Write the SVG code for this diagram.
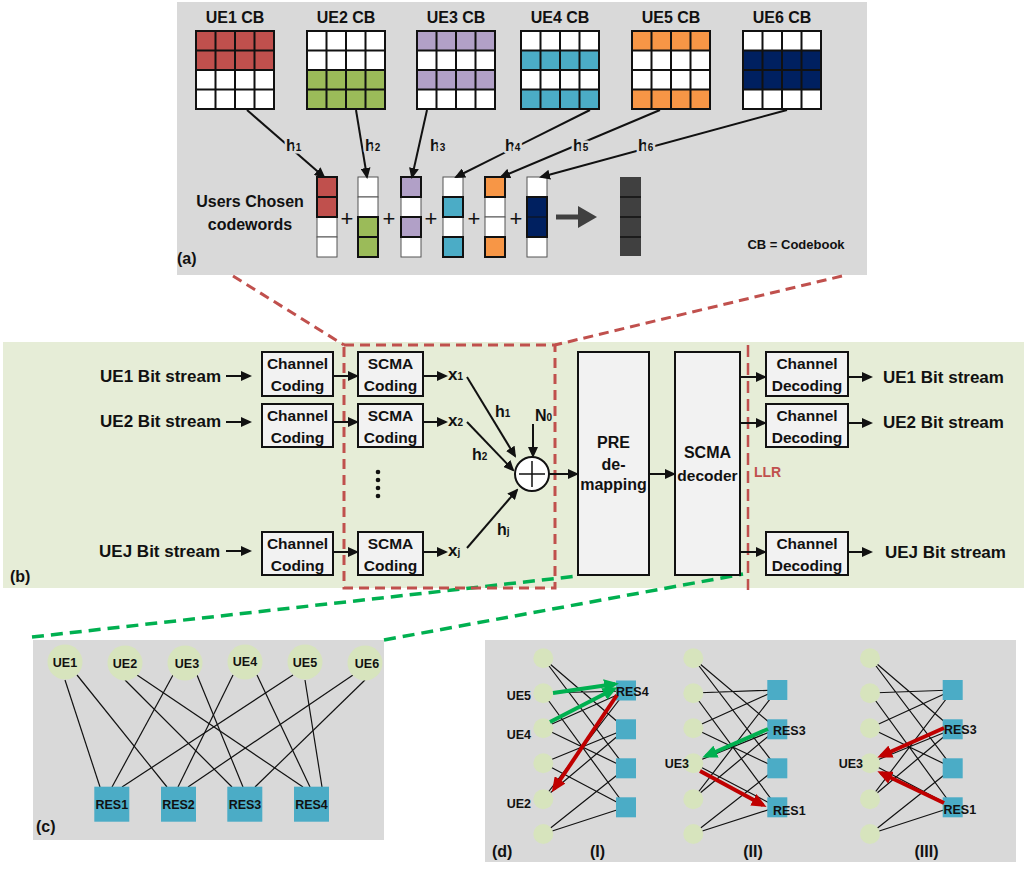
<svg xmlns="http://www.w3.org/2000/svg" width="1024" height="872" viewBox="0 0 1024 872">
<style>
text{font-family:"Liberation Sans",Arial,sans-serif;font-weight:bold;fill:#111}
.lab{font-size:16px}
.box{fill:#F2F2F2;stroke:#111;stroke-width:2}
.bt{font-size:15.5px;text-anchor:middle}
.ln{stroke:#111;stroke-width:2;fill:none}
.thin{stroke:#111;stroke-width:1.2;fill:none}
.halo{paint-order:stroke;stroke:#D9D9D9;stroke-width:5px;stroke-linejoin:round}
.cb{font-size:16px;text-anchor:middle}
.g{fill:none;stroke:#111;stroke-width:2}
.cw{stroke:#555;stroke-width:1}
.cwc{stroke:#111;stroke-width:2}
.ue{fill:#D7E4BD}
.res{fill:#4BACC6}
.nt{font-size:12.5px;text-anchor:middle}
.st{font-size:12.5px}
</style>
<defs>
<marker id="a" markerUnits="userSpaceOnUse" markerWidth="11" markerHeight="10" refX="9" refY="5" orient="auto"><path d="M0,0 L11,5 L0,10 z" fill="#111"/></marker>
<marker id="mg" markerUnits="userSpaceOnUse" markerWidth="15" markerHeight="13" refX="11" refY="6.5" orient="auto"><path d="M0,0 L15,6.5 L0,13 z" fill="#00B050"/></marker>
<marker id="mr" markerUnits="userSpaceOnUse" markerWidth="15" markerHeight="13" refX="11" refY="6.5" orient="auto"><path d="M0,0 L15,6.5 L0,13 z" fill="#C00000"/></marker>
<path id="grid" d="M0 0h78v78h-78z M19.5 0v78 M39 0v78 M58.5 0v78 M0 19.5h78 M0 39h78 M0 58.5h78"/>
</defs>

<!-- Panel backgrounds -->
<rect x="177" y="2" width="690" height="273" fill="#D9D9D9"/>
<rect x="3" y="342" width="1021" height="246" fill="#E6EDD7"/>
<rect x="33" y="640" width="351" height="200" fill="#D9D9D9"/>
<rect x="485" y="640" width="531" height="222" fill="#D9D9D9"/>

<!-- Panel (a) codebooks -->
<g id="ue1-cb" transform="translate(196,31)">
<text class="cb" x="39" y="-8">UE1 CB</text>
<rect x="0" y="0" width="78" height="39" fill="#C0504D"/><rect x="0" y="39" width="78" height="39" fill="#fff"/>
<use href="#grid" class="g"/>
</g>
<g id="ue2-cb" transform="translate(307,31)">
<text class="cb" x="39" y="-8">UE2 CB</text>
<rect x="0" y="0" width="78" height="39" fill="#fff"/><rect x="0" y="39" width="78" height="39" fill="#9BBB59"/>
<use href="#grid" class="g"/>
</g>
<g id="ue3-cb" transform="translate(417,31)">
<text class="cb" x="39" y="-8">UE3 CB</text>
<rect x="0" y="0" width="78" height="78" fill="#fff"/>
<rect x="0" y="0" width="78" height="19.5" fill="#B1A0C7"/><rect x="0" y="39" width="78" height="19.5" fill="#B1A0C7"/>
<use href="#grid" class="g"/>
</g>
<g id="ue4-cb" transform="translate(521,31)">
<text class="cb" x="39" y="-8">UE4 CB</text>
<rect x="0" y="0" width="78" height="78" fill="#fff"/>
<rect x="0" y="19.5" width="78" height="19.5" fill="#4BACC6"/><rect x="0" y="58.5" width="78" height="19.5" fill="#4BACC6"/>
<use href="#grid" class="g"/>
</g>
<g id="ue5-cb" transform="translate(632,31)">
<text class="cb" x="39" y="-8">UE5 CB</text>
<rect x="0" y="0" width="78" height="78" fill="#fff"/>
<rect x="0" y="0" width="78" height="19.5" fill="#F79646"/><rect x="0" y="58.5" width="78" height="19.5" fill="#F79646"/>
<use href="#grid" class="g"/>
</g>
<g id="ue6-cb" transform="translate(743,31)">
<text class="cb" x="39" y="-8">UE6 CB</text>
<rect x="0" y="0" width="78" height="78" fill="#fff"/>
<rect x="0" y="19.5" width="78" height="39" fill="#002060"/>
<use href="#grid" class="g"/>
</g>

<!-- chosen codewords -->
<g id="cw1" transform="translate(317,177)">
<rect class="cw" x="0" y="40" width="20" height="20" fill="#fff"/><rect class="cw" x="0" y="60" width="20" height="20" fill="#fff"/>
<rect class="cwc" x="0" y="0" width="20" height="20" fill="#C0504D"/><rect class="cwc" x="0" y="20" width="20" height="20" fill="#C0504D"/>
</g>
<g id="cw2" transform="translate(358,177)">
<rect class="cw" x="0" y="0" width="20" height="20" fill="#fff"/><rect class="cw" x="0" y="20" width="20" height="20" fill="#fff"/>
<rect class="cwc" x="0" y="40" width="20" height="20" fill="#9BBB59"/><rect class="cwc" x="0" y="60" width="20" height="20" fill="#9BBB59"/>
</g>
<g id="cw3" transform="translate(401,177)">
<rect class="cw" x="0" y="20" width="20" height="20" fill="#fff"/><rect class="cw" x="0" y="60" width="20" height="20" fill="#fff"/>
<rect class="cwc" x="0" y="0" width="20" height="20" fill="#B1A0C7"/><rect class="cwc" x="0" y="40" width="20" height="20" fill="#B1A0C7"/>
</g>
<g id="cw4" transform="translate(443,177)">
<rect class="cw" x="0" y="0" width="20" height="20" fill="#fff"/><rect class="cw" x="0" y="40" width="20" height="20" fill="#fff"/>
<rect class="cwc" x="0" y="20" width="20" height="20" fill="#4BACC6"/><rect class="cwc" x="0" y="60" width="20" height="20" fill="#4BACC6"/>
</g>
<g id="cw5" transform="translate(485,177)">
<rect class="cw" x="0" y="20" width="20" height="20" fill="#fff"/><rect class="cw" x="0" y="40" width="20" height="20" fill="#fff"/>
<rect class="cwc" x="0" y="0" width="20" height="20" fill="#F79646"/><rect class="cwc" x="0" y="60" width="20" height="20" fill="#F79646"/>
</g>
<g id="cw6" transform="translate(527,177)">
<rect class="cw" x="0" y="0" width="20" height="20" fill="#fff"/><rect class="cw" x="0" y="60" width="20" height="20" fill="#fff"/>
<rect class="cwc" x="0" y="20" width="20" height="40" fill="#002060"/><line x1="0" y1="40" x2="20" y2="40" stroke="#111" stroke-width="1"/>
</g>
<g id="sum" transform="translate(620,177)">
<rect x="0" y="0" width="21" height="79" fill="#404040"/>
<path d="M0 20h21 M0 40h21 M0 60h21" stroke="#111" stroke-width="1.5"/>
</g>
<g id="plus-signs" fill="#222">
<text x="347" y="226" style="font-size:22px;font-weight:normal;text-anchor:middle">+</text>
<text x="389" y="226" style="font-size:22px;font-weight:normal;text-anchor:middle">+</text>
<text x="431" y="226" style="font-size:22px;font-weight:normal;text-anchor:middle">+</text>
<text x="474" y="226" style="font-size:22px;font-weight:normal;text-anchor:middle">+</text>
<text x="516" y="226" style="font-size:22px;font-weight:normal;text-anchor:middle">+</text>
</g>
<g id="sum-arrow">
<line x1="556" y1="217" x2="580" y2="217" stroke="#404040" stroke-width="5"/>
<path d="M578,206 L597,217 L578,228 z" fill="#404040"/>
</g>
<text class="lab" x="250" y="207" text-anchor="middle">Users Chosen</text>
<text class="lab" x="250" y="230" text-anchor="middle">codewords</text>
<text x="796" y="249" style="font-size:13px;text-anchor:middle">CB = Codebook</text>
<text class="lab" x="177" y="264">(a)</text>

<!-- connectors panel (a) -->
<g id="conn-a">
<line class="ln" x1="247" y1="110" x2="324" y2="177" marker-end="url(#a)"/>
<line class="ln" x1="356" y1="110" x2="367" y2="177" marker-end="url(#a)"/>
<line class="ln" x1="427" y1="110" x2="412" y2="177" marker-end="url(#a)"/>
<line class="ln" x1="590" y1="110" x2="456" y2="177" marker-end="url(#a)"/>
<line class="ln" x1="660" y1="110" x2="501" y2="177" marker-end="url(#a)"/>
<line class="ln" x1="787" y1="110" x2="541" y2="177" marker-end="url(#a)"/>
</g>
<g id="h-labels" style="font-size:16px">
<text class="halo" x="286" y="151">h<tspan style="font-size:10px">1</tspan></text>
<text class="halo" x="365" y="151">h<tspan style="font-size:10px">2</tspan></text>
<text class="halo" x="430" y="151">h<tspan style="font-size:10px">3</tspan></text>
<text class="halo" x="505" y="151">h<tspan style="font-size:10px">4</tspan></text>
<text class="halo" x="573" y="151">h<tspan style="font-size:10px">5</tspan></text>
<text class="halo" x="638" y="151">h<tspan style="font-size:10px">6</tspan></text>
</g>

<!-- zoom lines -->
<g id="zoom-lines" fill="none">
<path d="M233,276 L344,345" stroke="#C0504D" stroke-width="3" stroke-dasharray="10 6"/>
<path d="M842,276 L555,345" stroke="#C0504D" stroke-width="3" stroke-dasharray="10 6"/>
<path d="M32,637 L578,576" stroke="#00B050" stroke-width="3.5" stroke-dasharray="12 7"/>
<path d="M384,640 L743,574" stroke="#00B050" stroke-width="3.5" stroke-dasharray="12 7"/>
</g>

<!-- Panel (b) -->
<rect x="344" y="345" width="211" height="243" fill="none" stroke="#C0504D" stroke-width="3" stroke-dasharray="10 6"/>
<line x1="748" y1="345" x2="748" y2="590" stroke="#C0504D" stroke-width="2.5" stroke-dasharray="12 6"/>
<text x="754" y="477" style="font-size:14px;fill:#C0504D">LLR</text>

<g id="in-labels" style="font-size:17px;text-anchor:end">
<text x="221" y="382">UE1 Bit stream</text>
<text x="221" y="427">UE2 Bit stream</text>
<text x="220" y="557">UEJ Bit stream</text>
</g>
<g id="cc1"><rect class="box" x="262" y="352" width="71" height="44"/><text class="bt" x="297.5" y="369">Channel</text><text class="bt" x="297.5" y="391">Coding</text></g>
<g id="cc2"><rect class="box" x="262" y="404" width="71" height="43"/><text class="bt" x="297.5" y="421">Channel</text><text class="bt" x="297.5" y="443">Coding</text></g>
<g id="cc3"><rect class="box" x="262" y="532" width="71" height="43"/><text class="bt" x="297.5" y="549">Channel</text><text class="bt" x="297.5" y="571">Coding</text></g>
<g id="sc1"><rect class="box" x="358" y="352" width="65" height="44"/><text class="bt" x="390.5" y="369">SCMA</text><text class="bt" x="390.5" y="391">Coding</text></g>
<g id="sc2"><rect class="box" x="358" y="404" width="65" height="43"/><text class="bt" x="390.5" y="421">SCMA</text><text class="bt" x="390.5" y="443">Coding</text></g>
<g id="sc3"><rect class="box" x="358" y="532" width="65" height="43"/><text class="bt" x="390.5" y="549">SCMA</text><text class="bt" x="390.5" y="571">Coding</text></g>
<g id="dots" fill="#111"><circle cx="378" cy="472" r="2.3"/><circle cx="378" cy="480" r="2.3"/><circle cx="378" cy="488" r="2.3"/><circle cx="378" cy="496" r="2.3"/></g>
<g id="x-labels" style="font-size:17px">
<text x="448" y="380">x<tspan style="font-size:10px">1</tspan></text>
<text x="448" y="426">x<tspan style="font-size:10px">2</tspan></text>
<text x="448" y="556">x<tspan style="font-size:10px">j</tspan></text>
</g>
<g id="adder"><circle cx="532" cy="474" r="17" fill="#fff" stroke="#111" stroke-width="2"/><path d="M519,474 h26 M532,461 v26" stroke="#111" stroke-width="1.5"/></g>
<g id="pre"><rect class="box" x="578" y="352" width="71" height="223"/><text class="bt" x="613.5" y="448" style="font-size:16px">PRE</text><text class="bt" x="613.5" y="470" style="font-size:16px">de-</text><text class="bt" x="613.5" y="490" style="font-size:16px">mapping</text></g>
<g id="dec"><rect class="box" x="675" y="352" width="65" height="223"/><text class="bt" x="707.5" y="458" style="font-size:16px">SCMA</text><text class="bt" x="707.5" y="481">decoder</text></g>
<g id="cd1"><rect class="box" x="766" y="352" width="82" height="44"/><text class="bt" x="807" y="369">Channel</text><text class="bt" x="807" y="391">Decoding</text></g>
<g id="cd2"><rect class="box" x="766" y="404" width="82" height="43"/><text class="bt" x="807" y="421">Channel</text><text class="bt" x="807" y="443">Decoding</text></g>
<g id="cd3"><rect class="box" x="766" y="532" width="82" height="43"/><text class="bt" x="807" y="549">Channel</text><text class="bt" x="807" y="571">Decoding</text></g>
<g id="out-labels" style="font-size:17px">
<text x="883" y="383">UE1 Bit stream</text>
<text x="883" y="428">UE2 Bit stream</text>
<text x="885" y="558">UEJ Bit stream</text>
</g>
<text class="lab" x="10" y="582">(b)</text>

<g id="conn-b">
<line class="ln" x1="226" y1="376" x2="250" y2="376" marker-end="url(#a)"/>
<line class="ln" x1="226" y1="422" x2="250" y2="422" marker-end="url(#a)"/>
<line class="ln" x1="226" y1="551" x2="250" y2="551" marker-end="url(#a)"/>
<line class="ln" x1="333" y1="376" x2="357" y2="376" marker-end="url(#a)"/>
<line class="ln" x1="333" y1="422" x2="357" y2="422" marker-end="url(#a)"/>
<line class="ln" x1="333" y1="552" x2="357" y2="552" marker-end="url(#a)"/>
<line class="ln" x1="423" y1="376" x2="446" y2="376" marker-end="url(#a)"/>
<line class="ln" x1="423" y1="422" x2="446" y2="422" marker-end="url(#a)"/>
<line class="ln" x1="423" y1="552" x2="446" y2="552" marker-end="url(#a)"/>
<line class="ln" x1="467" y1="377" x2="515" y2="456" marker-end="url(#a)"/>
<line class="ln" x1="467" y1="422" x2="513" y2="470" marker-end="url(#a)"/>
<line class="ln" x1="467" y1="548" x2="517" y2="490" marker-end="url(#a)"/>
<line class="ln" x1="533" y1="424" x2="533" y2="456" marker-end="url(#a)"/>
<line class="ln" x1="549" y1="474" x2="577" y2="474" marker-end="url(#a)"/>
<line class="ln" x1="649" y1="474" x2="674" y2="474" marker-end="url(#a)"/>
<line class="ln" x1="740" y1="377" x2="765" y2="377" marker-end="url(#a)"/>
<line class="ln" x1="740" y1="423" x2="765" y2="423" marker-end="url(#a)"/>
<line class="ln" x1="740" y1="552" x2="765" y2="552" marker-end="url(#a)"/>
<line class="ln" x1="848" y1="377" x2="871" y2="377" marker-end="url(#a)"/>
<line class="ln" x1="848" y1="423" x2="871" y2="423" marker-end="url(#a)"/>
<line class="ln" x1="848" y1="552" x2="871" y2="552" marker-end="url(#a)"/>
</g>
<g id="b-labels" style="font-size:16px">
<text x="495" y="417">h<tspan style="font-size:10px">1</tspan></text>
<text x="472" y="460">h<tspan style="font-size:10px">2</tspan></text>
<text x="497" y="535">h<tspan style="font-size:10px">j</tspan></text>
<text x="535" y="421">N<tspan style="font-size:10px">0</tspan></text>
</g>

<!-- Panel (c) -->
<g id="conn-c" class="thin">
<line x1="65" y1="680" x2="100" y2="787"/>
<line x1="77" y1="675" x2="167" y2="787"/>
<line x1="125" y1="680" x2="232" y2="787"/>
<line x1="137" y1="675" x2="303" y2="787"/>
<line x1="173" y1="675" x2="112" y2="787"/>
<line x1="197" y1="675" x2="243" y2="787"/>
<line x1="233" y1="675" x2="178" y2="787"/>
<line x1="257" y1="675" x2="310" y2="787"/>
<line x1="293" y1="675" x2="122" y2="787"/>
<line x1="305" y1="680" x2="322" y2="787"/>
<line x1="353" y1="675" x2="188" y2="787"/>
<line x1="365" y1="680" x2="255" y2="787"/>
</g>
<g id="c-ue1"><circle class="ue" cx="65" cy="662" r="17.5"/><text class="nt" x="65" y="667">UE1</text></g>
<g id="c-ue2"><circle class="ue" cx="125" cy="663" r="17.5"/><text class="nt" x="125" y="668">UE2</text></g>
<g id="c-ue3"><circle class="ue" cx="185" cy="663" r="17.5"/><text class="nt" x="187" y="668">UE3</text></g>
<g id="c-ue4"><circle class="ue" cx="245" cy="662" r="17.5"/><text class="nt" x="245" y="666">UE4</text></g>
<g id="c-ue5"><circle class="ue" cx="305" cy="662" r="17.5"/><text class="nt" x="305" y="667">UE5</text></g>
<g id="c-ue6"><circle class="ue" cx="365" cy="663" r="17.5"/><text class="nt" x="367" y="668">UE6</text></g>
<g id="c-res1"><rect class="res" x="94.3" y="786.7" width="35" height="35"/><text class="nt" x="111.8" y="808.5">RES1</text></g>
<g id="c-res2"><rect class="res" x="161" y="786.7" width="35" height="35"/><text class="nt" x="178.5" y="808.5">RES2</text></g>
<g id="c-res3"><rect class="res" x="227.3" y="786.7" width="35" height="35"/><text class="nt" x="245" y="808.5">RES3</text></g>
<g id="c-res4"><rect class="res" x="294" y="786.7" width="35" height="35"/><text class="nt" x="311.5" y="808.5">RES4</text></g>
<text class="lab" x="36" y="832">(c)</text>

<!-- Panel (d) -->
<g id="conn-d" class="thin">
<!-- (I) -->
<path d="M543,834 L626,807 M543,834 L626,768 M543,799 L626,729 M543,799 L626,691 M543,763 L626,807 M543,763 L626,729 M543,728 L626,768 M543,728 L626,691 M543,693 L626,807 M543,693 L626,691 M543,658 L626,768 M543,658 L626,729"/>
<!-- (II) -->
<path d="M693,834 L777,807 M693,834 L777,768 M693,799 L777,729 M693,799 L777,690 M693,763 L777,807 M693,763 L777,729 M693,728 L777,768 M693,728 L777,690 M693,693 L777,807 M693,693 L777,690 M693,658 L777,768 M693,658 L777,729"/>
<!-- (III) -->
<path d="M870,834 L953,807 M870,834 L953,768 M870,799 L953,729 M870,799 L953,690 M870,763 L953,807 M870,763 L953,729 M870,728 L953,768 M870,728 L953,690 M870,693 L953,807 M870,693 L953,690 M870,658 L953,768 M870,658 L953,729"/>
</g>
<g id="d1-nodes">
<circle class="ue" cx="543.3" cy="658.3" r="10"/><circle class="ue" cx="543.3" cy="693.3" r="10"/><circle class="ue" cx="543.3" cy="728.3" r="10"/><circle class="ue" cx="543.3" cy="763.3" r="10"/><circle class="ue" cx="543.3" cy="799.3" r="10"/><circle class="ue" cx="543.3" cy="834" r="10"/>
<rect class="res" x="616" y="680.5" width="20" height="20"/><rect class="res" x="616" y="719.3" width="20" height="20"/><rect class="res" x="616" y="758.3" width="20" height="20"/><rect class="res" x="616" y="797.3" width="20" height="20"/>
</g>
<g id="d2-nodes">
<circle class="ue" cx="693.3" cy="658.3" r="10"/><circle class="ue" cx="693.3" cy="693.3" r="10"/><circle class="ue" cx="693.3" cy="728.3" r="10"/><circle class="ue" cx="693.3" cy="763.3" r="10"/><circle class="ue" cx="693.3" cy="799.3" r="10"/><circle class="ue" cx="693.3" cy="834" r="10"/>
<rect class="res" x="767.3" y="680" width="20" height="20"/><rect class="res" x="767.3" y="719.3" width="20" height="20"/><rect class="res" x="767.3" y="758.3" width="20" height="20"/><rect class="res" x="767.3" y="797.3" width="20" height="20"/>
</g>
<g id="d3-nodes">
<circle class="ue" cx="870" cy="658.3" r="10"/><circle class="ue" cx="870" cy="693.3" r="10"/><circle class="ue" cx="870" cy="728.3" r="10"/><circle class="ue" cx="870" cy="763.3" r="10"/><circle class="ue" cx="870" cy="799.3" r="10"/><circle class="ue" cx="870" cy="834" r="10"/>
<rect class="res" x="942.7" y="680" width="20" height="20"/><rect class="res" x="942.7" y="719.3" width="20" height="20"/><rect class="res" x="942.7" y="758.3" width="20" height="20"/><rect class="res" x="942.7" y="797.3" width="20" height="20"/>
</g>
<g id="d-arrows" fill="none" stroke-width="4">
<line x1="553" y1="693" x2="615" y2="684" stroke="#00B050" marker-end="url(#mg)"/>
<line x1="550" y1="722" x2="614" y2="689" stroke="#00B050" marker-end="url(#mg)"/>
<line x1="617" y1="695" x2="554" y2="789" stroke="#C00000" marker-end="url(#mr)"/>
<line x1="768" y1="729" x2="706" y2="756" stroke="#00B050" marker-end="url(#mg)"/>
<line x1="700" y1="771" x2="763" y2="805" stroke="#C00000" marker-end="url(#mr)"/>
<line x1="944" y1="728" x2="881" y2="756" stroke="#C00000" marker-end="url(#mr)"/>
<line x1="944" y1="803" x2="881" y2="773" stroke="#C00000" marker-end="url(#mr)"/>
</g>
<g id="d-labels">
<text class="st" x="531" y="700" text-anchor="end">UE5</text>
<text class="st" x="531" y="739" text-anchor="end">UE4</text>
<text class="st" x="531" y="808" text-anchor="end">UE2</text>
<text class="st" x="616" y="696">RES4</text>
<text class="st" x="689" y="768" text-anchor="end">UE3</text>
<text class="st" x="773" y="735">RES3</text>
<text class="st" x="773" y="814.5">RES1</text>
<text class="st" x="863" y="768" text-anchor="end">UE3</text>
<text class="st" x="944" y="734">RES3</text>
<text class="st" x="943.5" y="813.5">RES1</text>
<text class="lab" x="492" y="857">(d)</text>
<text class="lab" x="597.5" y="857" text-anchor="middle">(I)</text>
<text class="lab" x="753" y="857" text-anchor="middle">(II)</text>
<text class="lab" x="926.5" y="857" text-anchor="middle">(III)</text>
</g>
</svg>
